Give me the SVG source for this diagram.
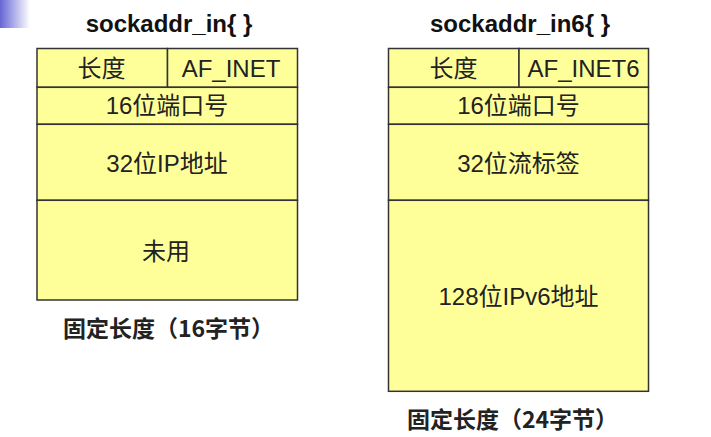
<svg xmlns="http://www.w3.org/2000/svg" width="711" height="437" viewBox="0 0 711 437">
<defs>
<linearGradient id="corner" x1="0" y1="0" x2="1" y2="0">
<stop offset="0" stop-color="#6666d6"/>
<stop offset="1" stop-color="#ffffff"/>
</linearGradient>
</defs>
<style>
.cell{fill:#ffff99;stroke:#333333;stroke-width:1.5}
.t{font-family:"Liberation Sans","Noto Sans CJK SC",sans-serif;font-size:24px;fill:#222222;text-anchor:middle}
.title{font-family:"Liberation Sans","Noto Sans CJK SC",sans-serif;font-size:24px;font-weight:bold;fill:#111111;text-anchor:middle}
.foot{font-family:"Noto Sans CJK SC",sans-serif;font-size:23px;font-weight:bold;fill:#222222;text-anchor:middle}
</style>
<rect x="0" y="0" width="30" height="28" fill="url(#corner)"/>
<g id="sockaddr_in">
<text class="title" x="169" y="32">sockaddr_in{ }</text>
<rect class="cell" x="37" y="48.5" width="130.5" height="38.8"/>
<rect class="cell" x="167.5" y="48.5" width="130" height="38.8"/>
<rect class="cell" x="37" y="87.3" width="260.5" height="37"/>
<rect class="cell" x="37" y="124.3" width="260.5" height="76"/>
<rect class="cell" x="37" y="200.3" width="260.5" height="99.7"/>
<text class="t" x="101.5" y="76.5">长度</text>
<text class="t" x="231" y="76.5">AF_INET</text>
<text class="t" x="167" y="114">16位端口号</text>
<text class="t" x="167" y="172">32位IP地址</text>
<text class="t" x="166" y="260">未用</text>
<text class="foot" x="168.5" y="337">固定长度（16字节）</text>
</g>
<g id="sockaddr_in6">
<text class="title" x="520" y="32">sockaddr_in6{ }</text>
<rect class="cell" x="388.5" y="48.5" width="130.5" height="38.8"/>
<rect class="cell" x="519" y="48.5" width="129.5" height="38.8"/>
<rect class="cell" x="388.5" y="87.3" width="260" height="37"/>
<rect class="cell" x="388.5" y="124.3" width="260" height="76"/>
<rect class="cell" x="388.5" y="200.3" width="260" height="191"/>
<text class="t" x="453.5" y="76.5">长度</text>
<text class="t" x="583.5" y="76.5">AF_INET6</text>
<text class="t" x="518.5" y="114">16位端口号</text>
<text class="t" x="518.5" y="172">32位流标签</text>
<text class="t" x="518.5" y="305">128位IPv6地址</text>
<text class="foot" x="512.5" y="428">固定长度（24字节）</text>
</g>
</svg>
